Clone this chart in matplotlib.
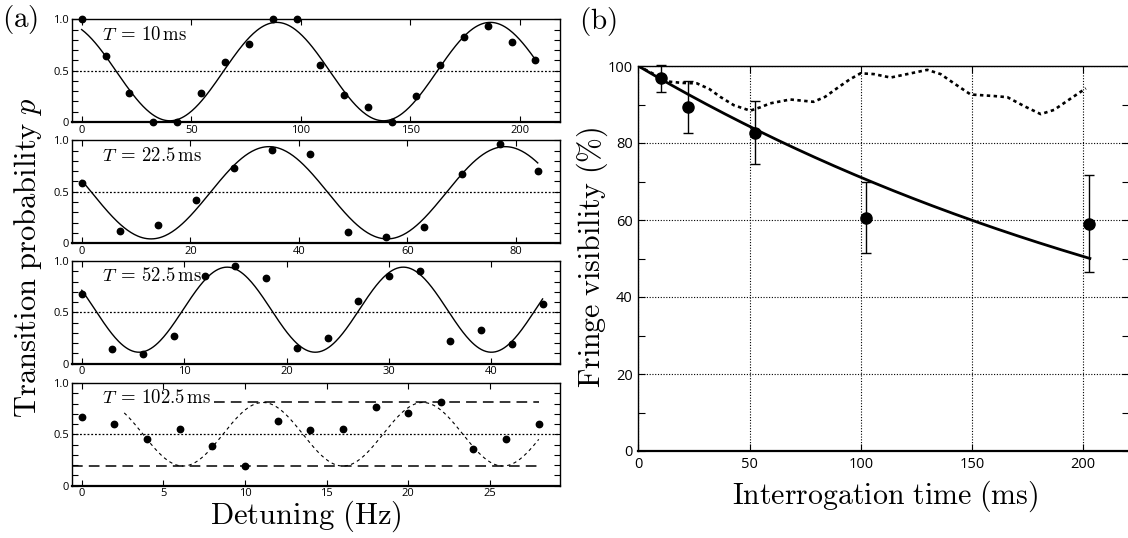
import numpy as np
import matplotlib
matplotlib.use('Agg')
import matplotlib.pyplot as plt
from matplotlib.ticker import MultipleLocator

plt.rcParams['mathtext.fontset'] = 'cm'
plt.rcParams['font.family'] = ['Open Sans', 'DejaVu Sans']

# ---- panel (a): Ramsey fringes for four interrogation times ----
labels_T = [r'$T\;=\,10\,\mathrm{ms}$', r'$T\;=\,22.5\,\mathrm{ms}$',
            r'$T\;=\,52.5\,\mathrm{ms}$', r'$T\;=\,102.5\,\mathrm{ms}$']

det_10 = [0, 10.9, 21.8, 32.7, 43.6, 54.5, 65.4, 76.3, 87.2, 98.1,
          109.0, 119.9, 130.8, 141.7, 152.6, 163.5, 174.4, 185.3, 196.2, 207.1]
p_10 = [1.0, 0.64, 0.28, 0.0, 0.0, 0.28, 0.58, 0.76, 1.0, 1.0,
        0.55, 0.26, 0.14, 0.0, 0.25, 0.55, 0.83, 0.93, 0.78, 0.60]

det_22 = [0, 7, 14, 21, 28, 35, 42, 49, 56, 63, 70, 77, 84]
p_22 = [0.59, 0.12, 0.18, 0.42, 0.73, 0.91, 0.87, 0.11, 0.06, 0.16, 0.67, 0.97, 0.70]

det_52 = [0, 3, 6, 9, 12, 15, 18, 21, 24, 27, 30, 33, 36, 39, 42, 45]
p_52 = [0.68, 0.14, 0.09, 0.27, 0.85, 0.95, 0.83, 0.15, 0.25, 0.61,
        0.85, 0.90, 0.22, 0.33, 0.19, 0.58]

det_102 = [0, 2, 4, 6, 8, 10, 12, 14, 16, 18, 20, 22, 24, 26, 28]
p_102 = [0.67, 0.60, 0.45, 0.55, 0.39, 0.19, 0.63, 0.54, 0.55, 0.77,
         0.71, 0.81, 0.36, 0.45, 0.60]

# fitted fringe: offset + amp * cos(2 pi (x - peak) / period)
fit_offset = [0.49, 0.49, 0.525, 0.50]
fit_amp = [0.48, 0.45, 0.415, 0.31]
fit_period = [97.5, 43.5, 17.2, 9.8]
fit_peak = [89.0, 34.5, 14.2, 11.1]
fit_start = [0, 0, 0, 2.6]
fit_stop = [207.1, 84, 45, 28]

# max / min contrast lines for the T = 102.5 ms scan
contrast_hi = 0.81
contrast_lo = 0.19
contrast_hi_start = 8.1

xlims_a = [(-4.4, 218.3), (-1.8, 88.1), (-0.95, 46.7), (-0.6, 29.3)]
xticks_a = [[0, 50, 100, 150, 200], [0, 20, 40, 60, 80],
            [0, 10, 20, 30, 40], [0, 5, 10, 15, 20, 25]]

# ---- panel (b): fringe visibility vs interrogation time ----
t_int = [10, 22.5, 52.5, 102.5, 202.5]
vis = [96.8, 89.4, 82.7, 60.6, 59.0]
vis_err = [3.5, 6.7, 8.2, 9.2, 12.6]

decay_v0 = 100.0
decay_tau = 293.0
decay_stop = 203.0

t_sim = [0, 5, 10, 14.3, 20, 26.3, 32, 36.8, 43, 50.3, 55, 59.3, 68.3, 78.8,
         84, 90, 95, 99.9, 105.9, 113.4, 120.9, 129.9, 135.9, 141.9, 149.4,
         159.9, 165.9, 173.4, 180.9, 186.9, 194.5, 201.2]
vis_sim = [100, 98.5, 97.0, 95.9, 95.6, 95.5, 94.0, 92.0, 89.8, 88.4, 89.3,
           90.3, 91.3, 90.7, 92.0, 94.5, 96.5, 98.1, 97.9, 97.0, 97.9, 99.0,
           97.9, 95.5, 92.6, 92.2, 91.9, 89.6, 87.5, 88.6, 91.6, 94.2]

W, H = 1128, 538
fig = plt.figure(figsize=(W / 100, H / 100), dpi=100)

dets = [det_10, det_22, det_52, det_102]
probs = [p_10, p_22, p_52, p_102]
tops = [19.3, 140.5, 261.0, 383.0]
ax_h = 102.5

for i in range(4):
    ax = fig.add_axes([72 / W, 1 - (tops[i] + ax_h) / H, 488 / W, ax_h / H])
    ax.set_xlim(*xlims_a[i])
    ax.set_ylim(0, 1)

    xs = np.linspace(fit_start[i], fit_stop[i], 400)
    ys = fit_offset[i] + fit_amp[i] * np.cos(2 * np.pi * (xs - fit_peak[i]) / fit_period[i])
    if i < 3:
        ax.plot(xs, ys, color='black', lw=1.0)
    else:
        ax.plot(xs, ys, color='black', lw=0.8, linestyle=(0, (3, 3)))
        ax.plot([xlims_a[i][0], fit_stop[i]], [contrast_lo, contrast_lo],
                color='black', lw=1.1, linestyle=(0, (7, 4)))
        ax.plot([contrast_hi_start, fit_stop[i]], [contrast_hi, contrast_hi],
                color='black', lw=1.1, linestyle=(0, (7, 4)))

    ax.axhline(0.5, color='black', lw=0.9, linestyle=(0, (1.5, 1.5)))
    ax.plot(dets[i], probs[i], 'o', color='black', ms=4.6, clip_on=False, zorder=5)

    ax.text(0.061, 0.85, labels_T[i], transform=ax.transAxes, fontsize=13.5,
            va='center', ha='left')

    ax.set_xticks(xticks_a[i])
    ax.set_yticks([0, 0.5, 1.0])
    ax.set_yticklabels(['0', '0.5', '1.0'])
    ax.yaxis.set_minor_locator(MultipleLocator(0.1))
    ax.tick_params(which='both', direction='in', top=True, right=True,
                   labelsize=8, pad=2, length=4, width=0.8)
    for s in ax.spines.values():
        s.set_linewidth(1.0)
    ax.spines['bottom'].set_linewidth(1.6)

fig.text(28 / W, 1 - 258 / H, r'$\mathrm{Transition\ probability}\ p$',
         rotation=90, ha='center', va='center', fontsize=22)
fig.text(306 / W, 1 - 516 / H, r'$\mathrm{Detuning\ (Hz)}$',
         ha='center', va='center', fontsize=22)
fig.text(20 / W, 1 - 20 / H, r'$\mathrm{(a)}$', ha='center', va='center', fontsize=21)

# ---- panel (b) ----
axb = fig.add_axes([638.3 / W, 1 - 451 / H, 490.5 / W, 385 / H])
axb.set_xlim(0, 220.5)
axb.set_ylim(0, 100)

tt = np.linspace(0, decay_stop, 300)
axb.plot(tt, decay_v0 * np.exp(-tt / decay_tau), color='black', lw=2.0, zorder=3)
axb.plot(t_sim, vis_sim, color='black', lw=1.9, linestyle=(0, (1.3, 1.3)), zorder=3)
axb.errorbar(t_int, vis, yerr=vis_err, fmt='o', color='black', ms=8,
             elinewidth=1.0, capsize=3.6, capthick=1.0, zorder=4, clip_on=False)

axb.set_xticks([0, 50, 100, 150, 200])
axb.set_yticks([0, 20, 40, 60, 80, 100])
axb.yaxis.set_minor_locator(MultipleLocator(10))
axb.grid(True, which='major', color='black', lw=0.8, linestyle=(0, (1, 1.5)))
axb.set_axisbelow(True)
axb.tick_params(which='both', direction='in', top=True, right=True,
                labelsize=10.5, pad=4, length=5, width=0.8)
for s in axb.spines.values():
    s.set_linewidth(1.0)
axb.spines['bottom'].set_linewidth(1.6)

fig.text(592 / W, 1 - 257 / H, r'$\mathrm{Fringe\ visibility\ (\%)}$',
         rotation=90, ha='center', va='center', fontsize=21.5)
fig.text(885 / W, 1 - 496 / H, r'$\mathrm{Interrogation\ time\ (ms)}$',
         ha='center', va='center', fontsize=21.5)
fig.text(598 / W, 1 - 22 / H, r'$\mathrm{(b)}$', ha='center', va='center', fontsize=21)

fig.savefig('out.png', dpi=100)
